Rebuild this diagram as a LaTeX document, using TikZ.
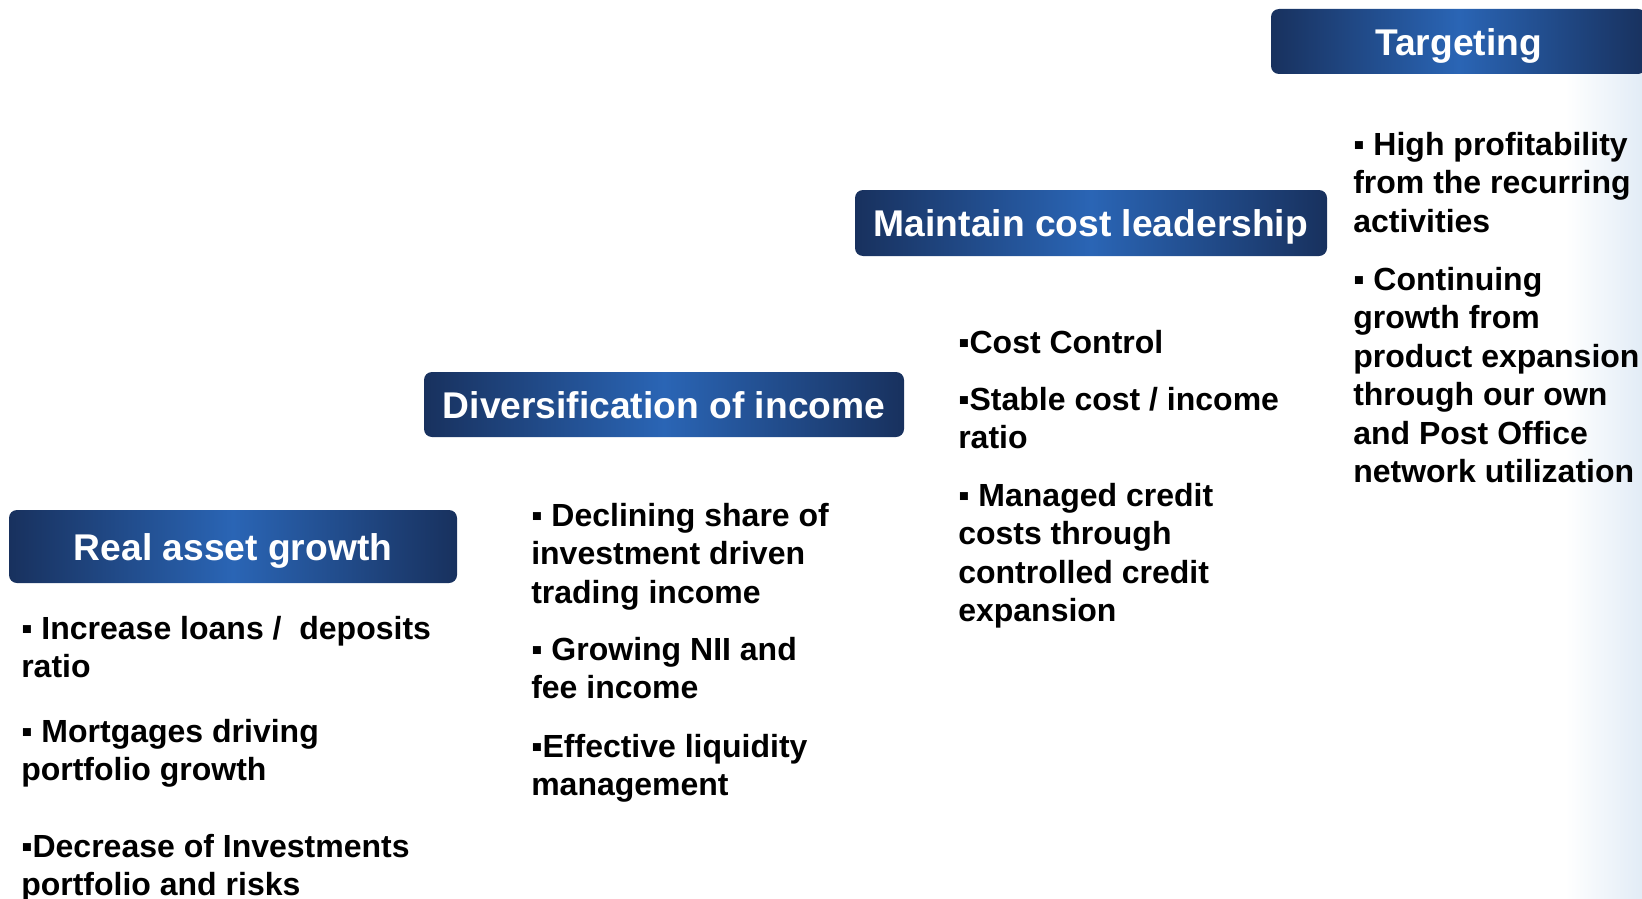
\documentclass[tikz,border=0pt]{standalone}
\usepackage{fontspec}
\setmainfont{Liberation Sans}
\usetikzlibrary{positioning}
\definecolor{navy}{RGB}{24,49,94}
\definecolor{midblue}{RGB}{42,101,181}
\definecolor{wash}{RGB}{226,236,246}
\newcommand{\sq}{\rule{0pt}{0.8em}▪}
\tikzset{
        header/.style={rounded corners=6pt, left color=navy, right color=navy, middle color=midblue,
          text=white, font=\bfseries\fontsize{27.9}{33}\selectfont,
          text height=20.4pt, text depth=0pt, inner sep=0pt}, % the blue title bars
        point/.style={anchor=north west, yshift=19.2pt, align=left, inner sep=0pt,
          font=\bfseries\fontsize{24}{28.9}\selectfont}, % bullet text, placed by its first baseline
    }
\begin{document}
\begin{tikzpicture}[x=0.75pt, y=-0.75pt]
    \useasboundingbox (0,0) rectangle (1642,899);
    % faint wash down the right edge
    \shade[left color=white, right color=wash] (1565,75) rectangle (1642,899);

    % title bars
    \node[header, minimum width=336pt, minimum height=54.75pt] (real) at (233,546.5) {Real asset growth};
    \node[header, minimum width=360pt, minimum height=48.75pt] (div) at (664,404.5) {Diversification of income};
    \node[header, minimum width=354pt, minimum height=49.5pt] (cost) at (1091,223) {Maintain cost leadership};
    \node[header, minimum width=281.25pt, minimum height=48.75pt] (target) at (1458.5,41.5) {Targeting};

    % first column
    \node[point] (real1) at (21,639) {\sq\ Increase loans /\ \ deposits\\ratio};
    \node[point] (real2) at (21,742) {\sq\ Mortgages driving\\portfolio growth};
    \node[point] (real3) at (21,857) {\sq Decrease of Investments\\portfolio and risks};

    % second column
    \node[point] (div1) at (531,526) {\sq\ Declining share of\\investment driven\\trading income};
    \node[point] (div2) at (531,660) {\sq\ Growing NII and\\fee income};
    \node[point] (div3) at (531,757) {\sq Effective liquidity\\management};

    % third column
    \node[point] (cost1) at (958,353) {\sq Cost Control};
    \node[point] (cost2) at (958,410) {\sq Stable cost / income\\ratio};
    \node[point] (cost3) at (958,506) {\sq\ Managed credit\\costs through\\controlled credit\\expansion};

    % fourth column
    \node[point] (target1) at (1353,155) {\sq\ High profitability\\from the recurring\\activities};
    \node[point] (target2) at (1353,290) {\sq\ Continuing\\growth from\\product expansion\\through our own\\and Post Office\\network utilization};
\end{tikzpicture}
\end{document}
